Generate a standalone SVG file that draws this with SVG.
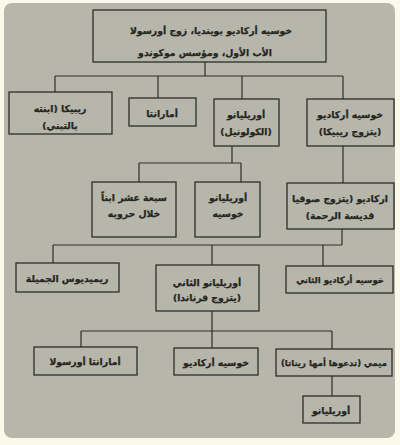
<svg xmlns="http://www.w3.org/2000/svg" width="400" height="445" viewBox="0 0 400 445">
<style>
.bx{fill:none;stroke:#2e2e2a;stroke-width:1.3}
.t{font-family:"DejaVu Sans",sans-serif;font-size:9.3px;font-weight:bold;fill:#26261f;stroke:#26261f;stroke-width:0.25;text-anchor:middle;direction:rtl}
.s{font-size:8.5px}
.c{fill:none;stroke:#2e2e2a;stroke-width:1.2}
</style>
<rect x="0" y="0" width="400" height="445" fill="#fbf9ea"/>
<rect x="4" y="3" width="391" height="435" rx="8" fill="#b6b6ab"/>
<g id="connectors">
<path class="c" d="M205 62V76M55 76H343M55 76V92M158 76V98M242 76V99M343 76V99"/>
<path class="c" d="M232 146V163M139 163H241M139 163V182M241 163V182M343 146V183"/>
<path class="c" d="M342 229V245M53 245H342M53 245V263M212 245V265M323 245V266"/>
<path class="c" d="M212 311V331M81 331H332M81 331V347M212 331V348M332 331V349M332 376V396"/>
</g>
<g id="n-top"><rect class="bx" x="93" y="10" width="233" height="52"/><text class="t" x="211" y="34">خوسيه أركاديو بوينديا، زوج أورسولا</text><text class="t" x="205" y="56">الأب الأول، ومؤسس موكوندو</text></g>
<g id="n-rebecca"><rect class="bx" x="9" y="92" width="103" height="42"/><text class="t" x="60" y="112">ريبيكا (ابنته</text><text class="t" x="60" y="129">بالتبني)</text></g>
<g id="n-amaranta"><rect class="bx" x="129" y="98" width="67" height="28"/><text class="t" x="162" y="117">أمارانتا</text></g>
<g id="n-aureliano"><rect class="bx" x="214" y="99" width="65" height="47"/><text class="t" x="246" y="118">أوريليانو</text><text class="t" x="246" y="135">(الكولونيل)</text></g>
<g id="n-josearcadio"><rect class="bx" x="307" y="99" width="87" height="47"/><text class="t" x="350" y="118">خوسيه أركاديو</text><text class="t" x="350" y="135">(يتزوج ريبيكا)</text></g>
<g id="n-seventeen"><rect class="bx" x="92" y="182" width="84" height="55"/><text class="t" x="134" y="201">سبعة عشر ابناً</text><text class="t" x="134" y="217">خلال حروبه</text></g>
<g id="n-aurelianojose"><rect class="bx" x="195" y="182" width="65" height="55"/><text class="t" x="228" y="201">أوريليانو</text><text class="t" x="228" y="217">خوسيه</text></g>
<g id="n-arcadio"><rect class="bx" x="287" y="183" width="107" height="46"/><text class="t" x="340" y="202">اركاديو (يتزوج صوفيا</text><text class="t" x="340" y="219">قديسة الرحمة)</text></g>
<g id="n-remedios"><rect class="bx" x="16" y="263" width="103" height="29"/><text class="t" x="67" y="282">ريميديوس الجميلة</text></g>
<g id="n-aureliano2"><rect class="bx" x="156" y="265" width="103" height="46"/><text class="t" x="207" y="286">أوريليانو الثاني</text><text class="t" x="207" y="301">(يتزوج فرناندا)</text></g>
<g id="n-josearcadio2"><rect class="bx" x="286" y="266" width="107" height="27"/><text class="t s" x="340" y="283">خوسيه أركاديو الثاني</text></g>
<g id="n-amarantaursula"><rect class="bx" x="34" y="347" width="103" height="28"/><text class="t" x="85" y="365">أمارانتا أورسولا</text></g>
<g id="n-josearcadio3"><rect class="bx" x="174" y="348" width="84" height="27"/><text class="t" x="216" y="366">خوسيه أركاديو</text></g>
<g id="n-meme"><rect class="bx" x="276" y="349" width="116" height="27"/><text class="t s" x="334" y="366">ميمي (تدعوها أمها ريناتا)</text></g>
<g id="n-aureliano3"><rect class="bx" x="303" y="396" width="57" height="27"/><text class="t" x="331" y="414">أوريليانو</text></g>
</svg>
